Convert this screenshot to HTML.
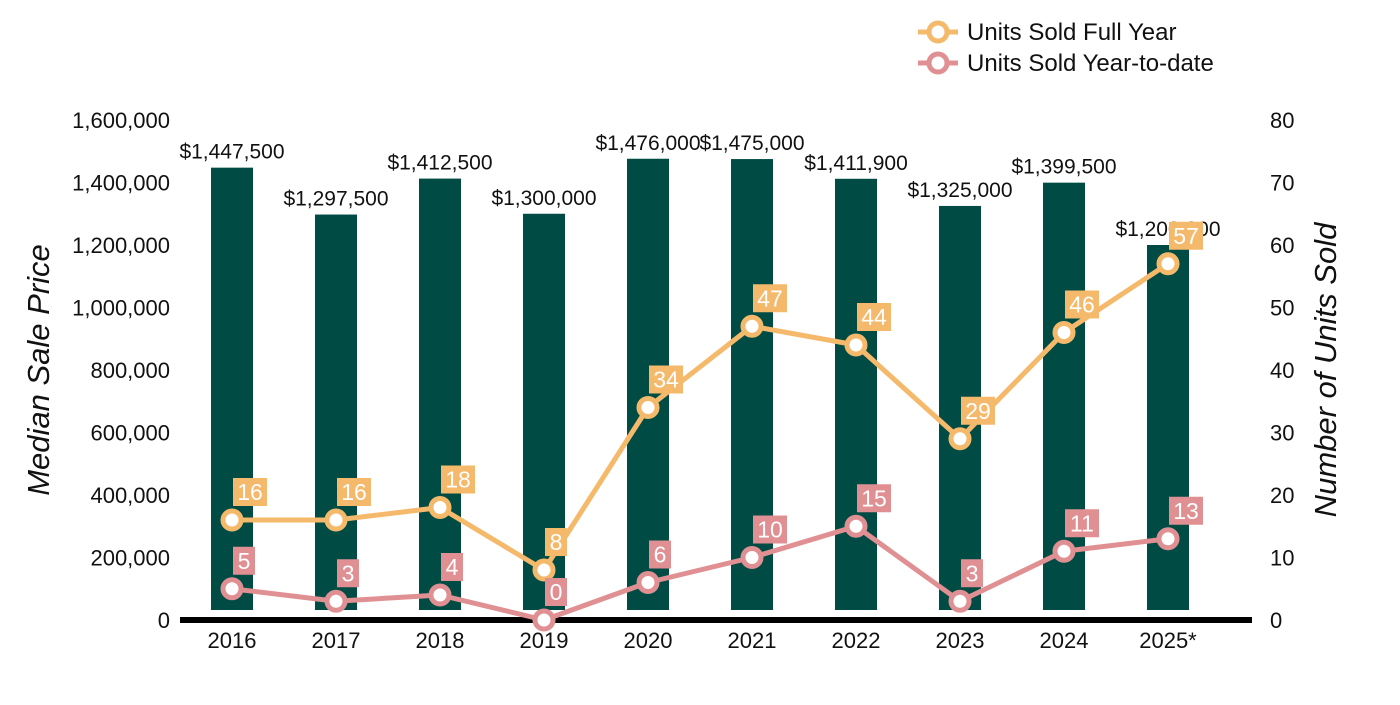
<!DOCTYPE html>
<html><head><meta charset="utf-8"><style>
body{margin:0;background:#fff;font-family:"Liberation Sans",Arial,sans-serif}
svg text{font-family:"Liberation Sans",Arial,sans-serif}
</style></head><body>
<svg id="c" width="1400" height="700" xmlns="http://www.w3.org/2000/svg"></svg>
<script>
const categories=["2016","2017","2018","2019","2020","2021","2022","2023","2024","2025*"];
const prices=[1447500,1297500,1412500,1300000,1476000,1475000,1411900,1325000,1399500,1200000];
const priceLabels=["$1,447,500","$1,297,500","$1,412,500","$1,300,000","$1,476,000","$1,475,000","$1,411,900","$1,325,000","$1,399,500","$1,200,000"];
const fullYear=[16,16,18,8,34,47,44,29,46,57];
const ytd=[5,3,4,0,6,10,15,3,11,13];
const leftTicks=[0,200000,400000,600000,800000,1000000,1200000,1400000,1600000];
const rightTicks=[0,10,20,30,40,50,60,70,80];
const NS="http://www.w3.org/2000/svg";
const svg=document.getElementById('c');
const x=i=>232+i*104;
const yL=v=>620-v/1600000*500;
const yR=v=>620-v/80*500;
function el(t,a,p){const e=document.createElementNS(NS,t);for(const k in a)e.setAttribute(k,a[k]);(p||svg).appendChild(e);return e;}
function tx(s,a){const e=el('text',a);e.textContent=s;return e;}
const fmt=v=>v.toLocaleString('en-US');
leftTicks.forEach(v=>{const t=tx(fmt(v),{x:170,y:yL(v)+8,'text-anchor':'end','font-size':22,fill:'#111'});

});
rightTicks.forEach(v=>{const t=tx(String(v),{x:1270,y:yR(v)+8,'font-size':22,fill:'#111'});

});
let t=tx('Median Sale Price',{x:0,y:0,transform:'translate(49,370) rotate(-90)','text-anchor':'middle','font-size':31,'font-style':'italic',fill:'#111'});

t=tx('Number of Units Sold',{x:0,y:0,transform:'translate(1336,370) rotate(-90)','text-anchor':'middle','font-size':31,'font-style':'italic',fill:'#111'});

prices.forEach((v,i)=>{const r=el('rect',{x:x(i)-21,y:yL(v),width:42,height:610-yL(v),fill:'#004C45'});


const l=tx(priceLabels[i],{x:x(i),y:yL(v)-9,'text-anchor':'middle','font-size':21,fill:'#111'});

});
const ax=el('line',{x1:180,x2:1252,y1:620,y2:620,stroke:'#000','stroke-width':6});

categories.forEach((c,i)=>{const l=tx(c,{x:x(i),y:648,'text-anchor':'middle','font-size':22,fill:'#111'});

});
function series(data,color,name){
const p=el('polyline',{points:data.map((v,i)=>x(i)+','+yR(v)).join(' '),fill:'none',stroke:color,'stroke-width':5,'stroke-linejoin':'round'});


data.forEach((v,i)=>{const cx=x(i),cy=yR(v);
const m=el('circle',{cx:cx,cy:cy,r:9,fill:'#fff',stroke:color,'stroke-width':5});


const s=String(v),w=s.length>1?34:22;
const b=el('rect',{x:cx+1,y:cy-42,width:w,height:28,fill:color});


const l=tx(s,{x:cx+1+w/2,y:cy-20,'text-anchor':'middle','font-size':23,fill:'#fff'});

});}
series(fullYear,'#F5B96B','full-year');
series(ytd,'#E09092','ytd');
function legend(y,color,label,name){
const g=el('g',{});


el('line',{x1:918,x2:958,y1:y,y2:y,stroke:color,'stroke-width':5},g);
el('circle',{cx:938,cy:y,r:9,fill:'#fff',stroke:color,'stroke-width':5},g);
const l=el('text',{x:967,y:y+8,'font-size':24,fill:'#111'},g);l.textContent=label;}
legend(32,'#F5B96B','Units Sold Full Year','legend-full-year');
legend(63,'#E09092','Units Sold Year-to-date','legend-ytd');
</script>
</body></html>
